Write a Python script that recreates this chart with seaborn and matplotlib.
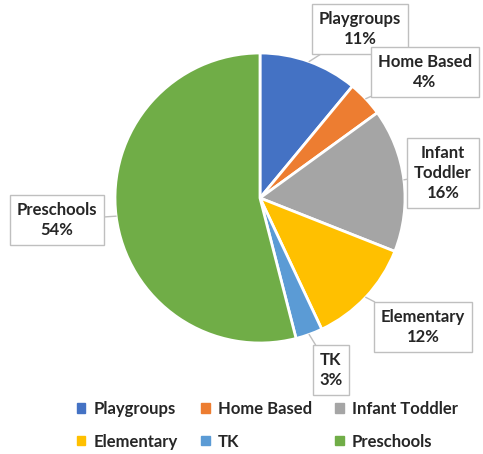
import numpy as np
import matplotlib
matplotlib.use("Agg")
import matplotlib.pyplot as plt
import matplotlib.patches as mpatches
import seaborn as sns

categories = ["Playgroups", "Home Based", "Infant Toddler", "Elementary", "TK", "Preschools"]
shares = [11, 4, 16, 12, 3, 54]
box_labels = ["Playgroups\n11%", "Home Based\n4%", "Infant\nToddler\n16%",
              "Elementary\n12%", "TK\n3%", "Preschools\n54%"]
colors = ["#4472C4", "#ED7D31", "#A5A5A5", "#FFC000", "#5B9BD5", "#70AD47"]

sns.set_theme(style="white")
plt.rcParams['font.family'] = ['Lato', 'DejaVu Sans']

W, H = 483, 454
cx, cy, r = 260, 198, 145  # pie centre / radius in pixels

fig = plt.figure(figsize=(W / 100, H / 100), dpi=100)
ax = fig.add_axes([0, 0, 1, 1])

wedges, _ = ax.pie(shares, colors=colors, startangle=90, counterclock=False,
                   wedgeprops=dict(edgecolor="white", linewidth=2))
ax.set_xlim(-cx / r, (W - cx) / r)
ax.set_ylim((cy - H) / r, cy / r)
ax.set_aspect("equal")
ax.axis("off")

# label box centres, in pixels from top-left
box_pos = [(360, 29), (425, 72), (443, 173), (423, 327), (331, 370), (57, 220)]

for w, lab, (px, py) in zip(wedges, box_labels, box_pos):
    ang = np.deg2rad((w.theta1 + w.theta2) / 2)
    tip = (np.cos(ang), np.sin(ang))
    ax.annotate(lab, xy=tip, xytext=((px - cx) / r, (cy - py) / r),
                ha="center", va="center", fontsize=12, fontweight="bold",
                color="#262626", linespacing=1.3,
                bbox=dict(boxstyle="square,pad=0.4", fc="white", ec="#BFBFBF", lw=1),
                arrowprops=dict(arrowstyle="-", color="#BFBFBF", lw=1,
                                shrinkA=0, shrinkB=0))

# legend fills column by column, so reorder to read row by row
handles = [mpatches.Patch(color=c, label=n) for c, n in zip(colors, categories)]
order = [0, 3, 1, 4, 2, 5]
leg = fig.legend(handles=[handles[i] for i in order], ncol=3, loc="upper left",
                 bbox_to_anchor=(62 / W, 1 - 386 / H), frameon=False,
                 handlelength=0.5, handleheight=0.5, handletextpad=0.5,
                 columnspacing=1.4, labelspacing=1.0,
                 prop=dict(size=12, weight="bold"))
for t in leg.get_texts():
    t.set_color("#262626")

fig.savefig("out.png", dpi=100)
